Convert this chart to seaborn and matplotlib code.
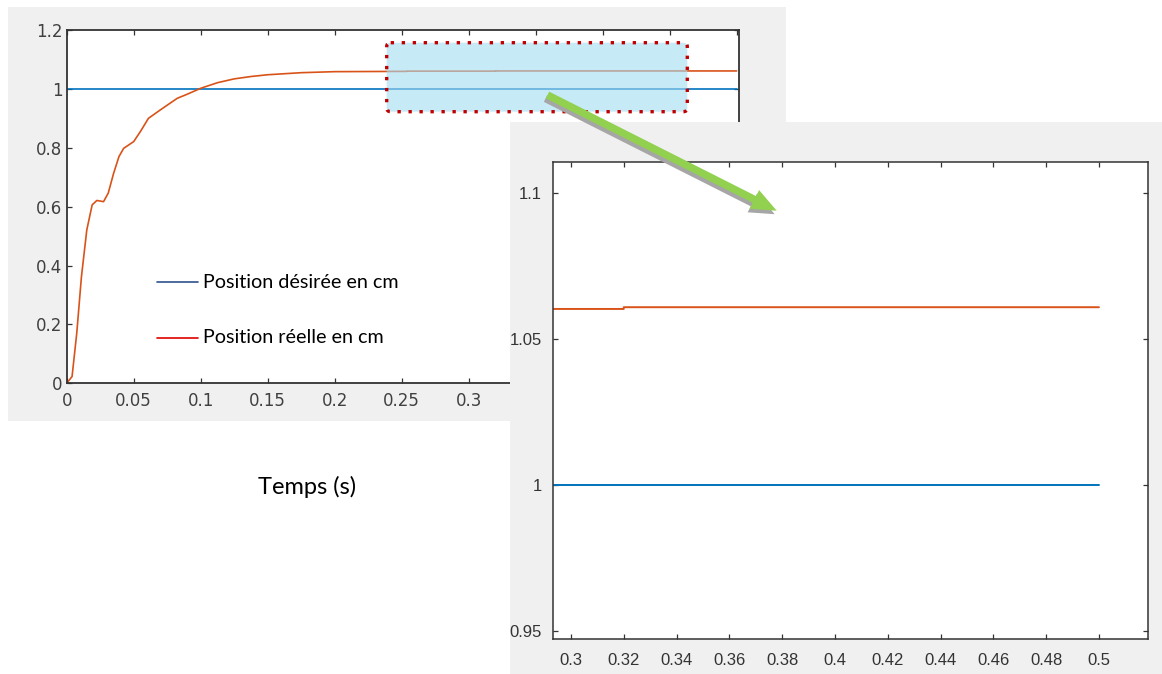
import matplotlib
matplotlib.use("Agg")
import matplotlib.pyplot as plt
import numpy as np
import pandas as pd
import seaborn as sns
from matplotlib.patches import Rectangle, FancyBboxPatch, FancyArrow
from matplotlib.lines import Line2D
from matplotlib.transforms import Affine2D

# ---- data -------------------------------------------------------------
time_real = [0.0, 0.004, 0.0075, 0.011, 0.015, 0.019, 0.0225, 0.0275, 0.031,
             0.035, 0.039, 0.0425, 0.05, 0.055, 0.061, 0.07, 0.0825, 0.09,
             0.1, 0.1125, 0.125, 0.1375, 0.15, 0.175, 0.2, 0.254, 0.254,
             0.32, 0.32, 0.5]
pos_real = [0.0, 0.023, 0.17, 0.362, 0.521, 0.606, 0.621, 0.617, 0.646,
            0.713, 0.770, 0.798, 0.821, 0.855, 0.900, 0.929, 0.968, 0.982,
            1.002, 1.021, 1.034, 1.042, 1.048, 1.055, 1.0585, 1.0595, 1.0603,
            1.0603, 1.0609, 1.0609]
time_des = [0.0, 0.5]
pos_des = [1.0, 1.0]

main_xticks = [0, 0.05, 0.1, 0.15, 0.2, 0.25, 0.3, 0.35, 0.4, 0.45, 0.5]
main_xticklabels = ["0", "0.05", "0.1", "0.15", "0.2", "0.25", "0.3",
                    "0.35", "0.4", "0.45", "0.5"]
main_yticks = [0, 0.2, 0.4, 0.6, 0.8, 1.0, 1.2]
main_yticklabels = ["0", "0.2", "0.4", "0.6", "0.8", "1", "1.2"]

zoom_xticks = [0.30, 0.32, 0.34, 0.36, 0.38, 0.40, 0.42, 0.44, 0.46, 0.48, 0.50]
zoom_xticklabels = ["0.3", "0.32", "0.34", "0.36", "0.38", "0.4", "0.42",
                    "0.44", "0.46", "0.48", "0.5"]
zoom_yticks = [0.95, 1.0, 1.05, 1.1]
zoom_yticklabels = ["0.95", "1", "1.05", "1.1"]

legend_labels = ["Position désirée en cm", "Position réelle en cm"]
xlabel_text = "Temps (s)"

# ---- style ------------------------------------------------------------
sns.set_theme(style="ticks")
plt.rcParams["font.family"] = ["DejaVu Sans"]

W, H = 1162, 674
fig = plt.figure(figsize=(W / 100, H / 100), dpi=100, facecolor="white")
# pixel coordinates measured from the top-left corner of the figure
px = Affine2D().scale(1 / W, -1 / H).translate(0, 1) + fig.transFigure


def fig_rect(x0, y0, x1, y1):
    return [x0 / W, 1 - y1 / H, (x1 - x0) / W, (y1 - y0) / H]


BLUE = "#0072BD"
ORANGE = "#D95319"
PANEL = "#f0f0f0"

df_real = pd.DataFrame({"t": time_real, "pos": pos_real})
df_des = pd.DataFrame({"t": time_des, "pos": pos_des})

# ---- main figure panel ------------------------------------------------
fig.add_artist(Rectangle((8, 7), 778, 414, transform=px, facecolor=PANEL,
                         edgecolor="none", zorder=-5))

ax = fig.add_axes(fig_rect(66.7, 30, 739.3, 383.3))
ax.set_zorder(1)
ax.set_facecolor("white")
sns.lineplot(data=df_des, x="t", y="pos", ax=ax, color=BLUE, lw=1.2,
             estimator=None, sort=False)
sns.lineplot(data=df_real, x="t", y="pos", ax=ax, color=ORANGE, lw=1.2,
             estimator=None, sort=False)
ax.set_xlim(0, 0.502)
ax.set_ylim(0, 1.2)
ax.set_xticks(main_xticks, main_xticklabels)
ax.set_yticks(main_yticks, main_yticklabels)
ax.set_ylabel("")
ax.tick_params(axis="both", direction="in", length=3.5, width=0.9,
               top=True, right=True, color="#333333", labelcolor="#404040",
               labelsize=12)
ax.tick_params(axis="x", pad=6)
ax.tick_params(axis="y", pad=3)
for s in ax.spines.values():
    s.set_visible(True)
    s.set_color("#333333")
    s.set_linewidth(1.3)

ax.set_xlabel(xlabel_text, fontfamily="Lato", fontsize=17, color="black")
ax.xaxis.set_label_coords((307 - 66.7) / 672.6, (383.3 - 487) / 353.3)
ax.xaxis.label.set_va("center")

# legend drawn as free text with sample strokes
legend_colors = ["#2f528f", "#e00000"]
legend_y = [282.3, 337.7]
for lab, col, yy in zip(legend_labels, legend_colors, legend_y):
    fig.add_artist(Line2D([156.7, 198.3], [yy, yy], transform=px, color=col,
                          lw=1.2, zorder=3))
    fig.text(203, yy, lab, transform=px, fontfamily="Lato", fontsize=14.2,
             va="center", ha="left", color="black", zorder=3)

# highlighted zoom region
fig.add_artist(FancyBboxPatch((388.7, 44.7), 296.6, 65,
                              boxstyle="round,pad=2,rounding_size=4",
                              transform=px,
                              facecolor=(163 / 255, 220 / 255, 243 / 255, 0.6),
                              edgecolor="#c00000", linewidth=2.4,
                              linestyle=(0, (1, 2.3)), zorder=2))

# ---- zoom panel -------------------------------------------------------
fig.add_artist(Rectangle((510, 122), 652, 552, transform=px, facecolor=PANEL,
                         edgecolor="none", zorder=3))

axz = fig.add_axes(fig_rect(552.7, 162.3, 1148.3, 639.3))
axz.set_zorder(4)
axz.set_facecolor("white")
sns.lineplot(data=df_des, x="t", y="pos", ax=axz, color=BLUE, lw=1.4,
             estimator=None, sort=False)
sns.lineplot(data=df_real, x="t", y="pos", ax=axz, color=ORANGE, lw=1.4,
             estimator=None, sort=False)
axz.set_xlim(0.2931, 0.5187)
axz.set_ylim(0.947, 1.1106)
axz.set_xticks(zoom_xticks, zoom_xticklabels)
axz.set_yticks(zoom_yticks, zoom_yticklabels)
axz.set_xlabel("")
axz.set_ylabel("")
axz.tick_params(axis="both", direction="in", length=3.5, width=0.9,
                top=True, right=True, color="#333333", labelcolor="#333333",
                labelsize=12, labelfontfamily="Liberation Sans")
axz.tick_params(axis="x", pad=10)
axz.tick_params(axis="y", pad=8)
for s in axz.spines.values():
    s.set_visible(True)
    s.set_color("#333333")
    s.set_linewidth(1.1)

# ---- arrow linking the two panels ---------------------------------------
x0, y0, x1, y1 = 547.5, 95.0, 776.7, 210.7
for off, col in [((-2, 3.5), "#a6a6a6"), ((0, 0), "#92d050")]:
    fig.add_artist(FancyArrow(x0 + off[0], y0 + off[1], x1 - x0, y1 - y0,
                              width=7.5, head_width=21, head_length=25,
                              length_includes_head=True, transform=px,
                              facecolor=col, edgecolor="none", zorder=6))

fig.savefig("out.png", dpi=100, facecolor="white")
